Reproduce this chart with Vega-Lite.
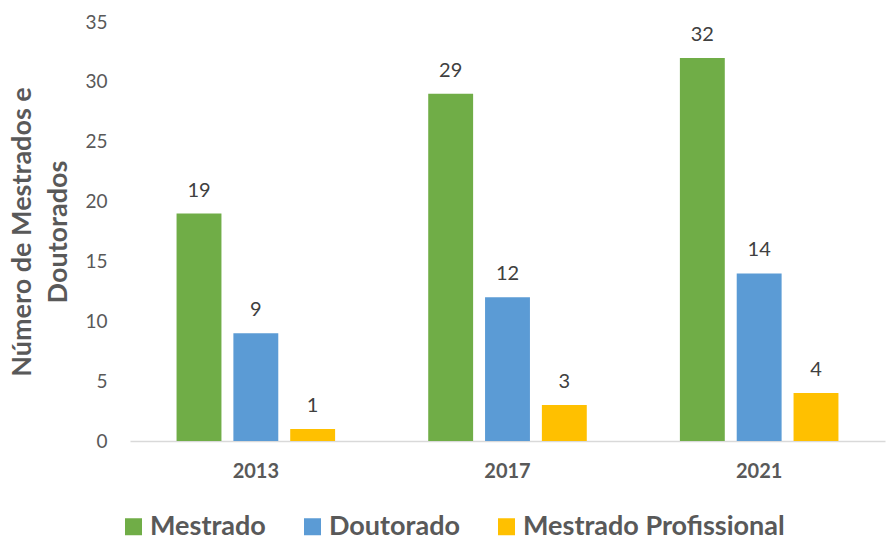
{
  "$schema": "https://vega.github.io/schema/vega-lite/v6.json",
  "autosize": {"type": "none"},
  "padding": {"left": 130, "top": 22, "right": 5, "bottom": 99},
  "width": 755,
  "height": 419,
  "background": "white",
  "config": {"view": {"stroke": null}, "font": "Lato"},
  "data": {
    "values": [
      {"ano": "2013", "tipo": "Mestrado", "valor": 19},
      {"ano": "2013", "tipo": "Doutorado", "valor": 9},
      {"ano": "2013", "tipo": "Mestrado Profissional", "valor": 1},
      {"ano": "2017", "tipo": "Mestrado", "valor": 29},
      {"ano": "2017", "tipo": "Doutorado", "valor": 12},
      {"ano": "2017", "tipo": "Mestrado Profissional", "valor": 3},
      {"ano": "2021", "tipo": "Mestrado", "valor": 32},
      {"ano": "2021", "tipo": "Doutorado", "valor": 14},
      {"ano": "2021", "tipo": "Mestrado Profissional", "valor": 4}
    ]
  },
  "encoding": {
    "x": {
      "field": "ano", "type": "nominal",
      "scale": {"paddingInner": 0.37, "paddingOuter": 0.185},
      "axis": {"title": null, "labelAngle": 0, "labelFont": "Lato", "labelFontWeight": "bold", "labelFontSize": 20, "labelColor": "#595959", "labelPadding": 20, "ticks": false, "domainColor": "#D9D9D9", "domainWidth": 1.5}
    },
    "xOffset": {
      "field": "tipo", "type": "nominal",
      "sort": ["Mestrado", "Doutorado", "Mestrado Profissional"],
      "scale": {"paddingInner": 0.21, "paddingOuter": 0}
    },
    "y": {
      "field": "valor", "type": "quantitative",
      "scale": {"domain": [0, 35], "nice": false},
      "axis": {"values": [0, 5, 10, 15, 20, 25, 30, 35], "grid": false, "domain": false, "ticks": false, "labelFontSize": 19, "labelColor": "#595959", "labelPadding": 23, "title": ["Número de Mestrados e", "Doutorados"], "titleFontSize": 27, "titleFontWeight": "bold", "titleColor": "#595959", "titlePadding": 12, "titleLineHeight": 36}
    }
  },
  "layer": [
    {
      "mark": {"type": "bar"},
      "encoding": {
        "color": {
          "field": "tipo", "type": "nominal",
          "sort": ["Mestrado", "Doutorado", "Mestrado Profissional"],
          "scale": {"domain": ["Mestrado", "Doutorado", "Mestrado Profissional"], "range": ["#70AD47", "#5B9BD5", "#FFC000"]},
          "legend": {"title": null, "orient": "none", "legendX": -10, "legendY": 491, "direction": "horizontal", "columns": 3, "symbolType": "square", "symbolSize": 289, "symbolStrokeWidth": 0, "labelFontSize": 27, "labelFontWeight": "bold", "labelColor": "#595959", "labelOffset": 3, "columnPadding": 33, "labelLimit": 400}
        }
      }
    },
    {
      "mark": {"type": "text", "baseline": "bottom", "dy": -13, "fontSize": 20, "color": "#404040"},
      "encoding": {"text": {"field": "valor", "type": "quantitative"}}
    }
  ]
}
